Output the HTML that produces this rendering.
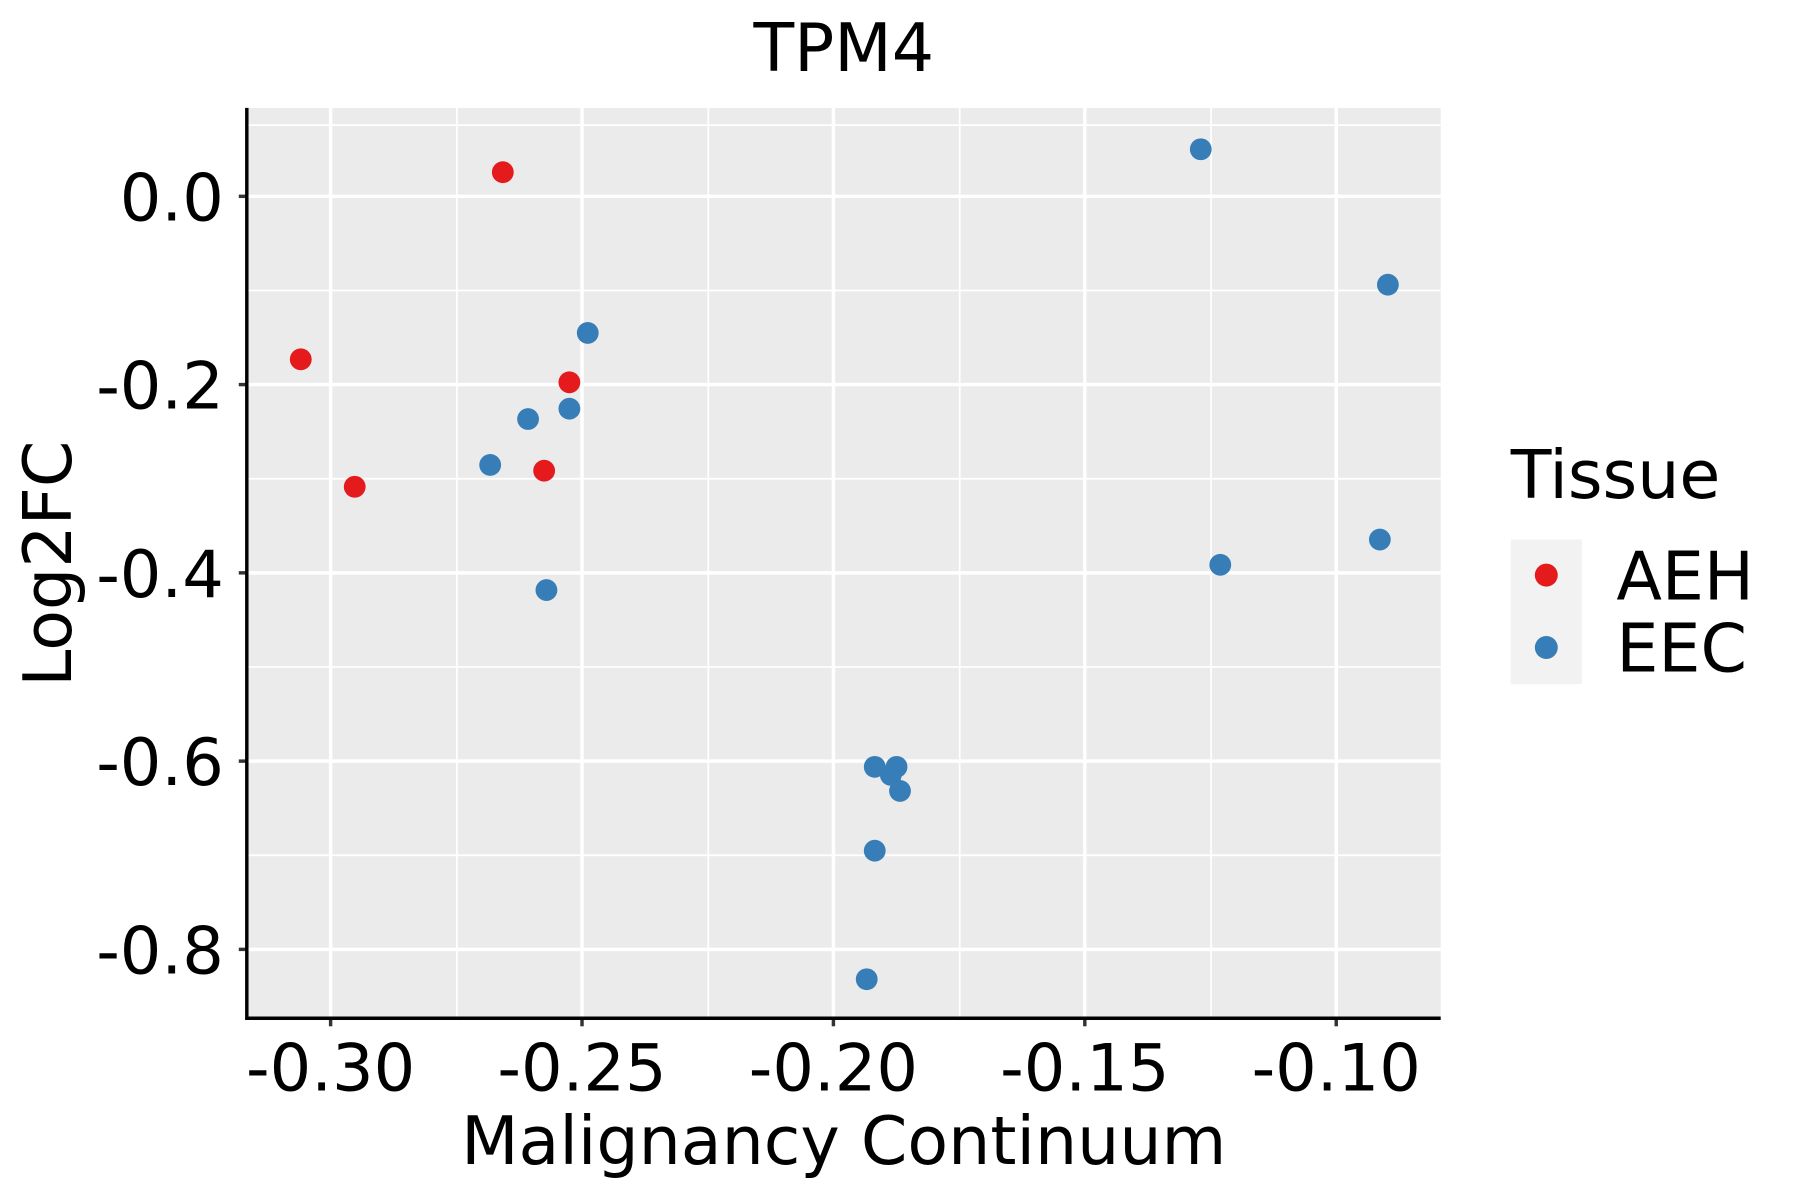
<!DOCTYPE html>
<html><head><meta charset="utf-8"><style>html,body{margin:0;padding:0;background:#fff}svg{display:block}</style></head>
<body>
<svg width="1800" height="1200" viewBox="0 0 1568 1045.3" xmlns="http://www.w3.org/2000/svg" font-family="DejaVu Sans, Liberation Sans, sans-serif">
<rect x="215" y="94" width="1040" height="793" fill="#ebebeb"/>
<g stroke="#fff" stroke-width="1.5">
<line x1="215" x2="1255" y1="253" y2="253"/><line x1="215" x2="1255" y1="417" y2="417"/><line x1="215" x2="1255" y1="581" y2="581"/><line x1="215" x2="1255" y1="745" y2="745"/><line x1="215" x2="1255" y1="109" y2="109"/>
<line y1="94" y2="887" x1="398" x2="398"/><line y1="94" y2="887" x1="617" x2="617"/><line y1="94" y2="887" x1="836" x2="836"/><line y1="94" y2="887" x1="1055" x2="1055"/>
</g>
<g stroke="#fff" stroke-width="3">
<line x1="215" x2="1255" y1="171" y2="171"/><line x1="215" x2="1255" y1="335" y2="335"/><line x1="215" x2="1255" y1="499" y2="499"/><line x1="215" x2="1255" y1="663" y2="663"/><line x1="215" x2="1255" y1="827" y2="827"/>
<line y1="94" y2="887" x1="288" x2="288"/><line y1="94" y2="887" x1="507" x2="507"/><line y1="94" y2="887" x1="726" x2="726"/><line y1="94" y2="887" x1="945" x2="945"/><line y1="94" y2="887" x1="1164" x2="1164"/>
</g>
<g stroke="#333" stroke-width="3">
<line x1="208" x2="215" y1="171" y2="171"/><line x1="208" x2="215" y1="335" y2="335"/><line x1="208" x2="215" y1="499" y2="499"/><line x1="208" x2="215" y1="663" y2="663"/><line x1="208" x2="215" y1="827" y2="827"/>
<line y1="887" y2="894" x1="288" x2="288"/><line y1="887" y2="894" x1="507" x2="507"/><line y1="887" y2="894" x1="726" x2="726"/><line y1="887" y2="894" x1="945" x2="945"/><line y1="887" y2="894" x1="1164" x2="1164"/>
</g>
<polyline points="215,94 215,887 1255,887" fill="none" stroke="#000" stroke-width="3"/>
<g fill="#e41a1c">
<circle cx="438" cy="150" r="9.5"/><circle cx="262" cy="313" r="9.5"/><circle cx="496" cy="333" r="9.5"/><circle cx="309" cy="424" r="9.5"/><circle cx="474" cy="410" r="9.5"/>
</g>
<g fill="#377eb8">
<circle cx="1046" cy="130" r="9.5"/><circle cx="1209" cy="248" r="9.5"/><circle cx="512" cy="290" r="9.5"/><circle cx="460" cy="365" r="9.5"/><circle cx="496" cy="356" r="9.5"/><circle cx="427" cy="405" r="9.5"/><circle cx="476" cy="514" r="9.5"/><circle cx="1063" cy="492" r="9.5"/><circle cx="1202" cy="470" r="9.5"/><circle cx="762" cy="668" r="9.5"/><circle cx="781" cy="668" r="9.5"/><circle cx="776" cy="675" r="9.5"/><circle cx="784" cy="689" r="9.5"/><circle cx="762" cy="741" r="9.5"/><circle cx="755" cy="853" r="9.5"/>
</g>
<g font-size="57" fill="#000" text-anchor="end">
<text x="195" y="192">0.0</text><text x="195" y="356">-0.2</text><text x="195" y="520">-0.4</text><text x="195" y="684">-0.6</text><text x="195" y="848">-0.8</text>
</g>
<g font-size="57" fill="#000" text-anchor="middle">
<text x="288" y="950">-0.30</text><text x="507" y="950">-0.25</text><text x="726" y="950">-0.20</text><text x="945" y="950">-0.15</text><text x="1164" y="950">-0.10</text>
</g>
<text x="735" y="1014" font-size="58" text-anchor="middle">Malignancy Continuum</text>
<text transform="translate(62,491) rotate(-90)" font-size="58" text-anchor="middle">Log2FC</text>
<text x="735" y="62" font-size="58" text-anchor="middle">TPM4</text>
<text x="1316" y="434" font-size="58">Tissue</text>
<rect x="1316" y="470" width="62" height="126" fill="#f2f2f2"/>
<circle cx="1347" cy="501" r="10" fill="#e41a1c"/>
<circle cx="1347" cy="564" r="10" fill="#377eb8"/>
<text x="1408" y="522" font-size="58">AEH</text>
<text x="1408" y="585" font-size="58">EEC</text>
</svg>
</body></html>
